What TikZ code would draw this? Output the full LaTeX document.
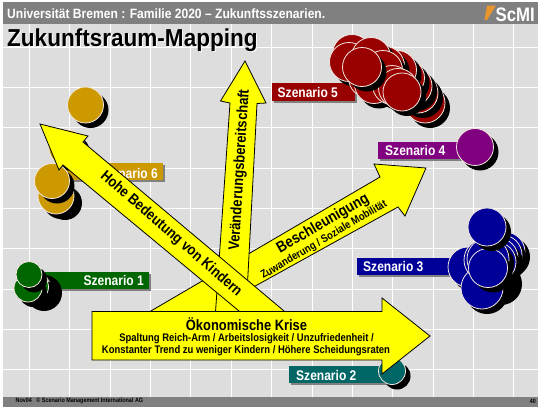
\documentclass[tikz,border=0pt]{standalone}
\usepackage{fontspec}
\setmainfont{Liberation Sans}
\newfontfamily\nb[FakeStretch=0.86]{Liberation Sans Bold}
\newfontfamily\nh[FakeStretch=0.895]{Liberation Sans Bold}
\newfontfamily\tb[FakeStretch=0.92]{Liberation Sans Bold}
\definecolor{bggray}{HTML}{DDDDDD}
\definecolor{hgray}{HTML}{808080}
\definecolor{arrowy}{HTML}{FFFF00}
\definecolor{gold}{HTML}{CC9900}
\definecolor{dred}{HTML}{990000}
\definecolor{navy}{HTML}{000099}
\definecolor{purp}{HTML}{800080}
\definecolor{dgreen}{HTML}{006600}
\definecolor{teal2}{HTML}{006666}
\definecolor{rim}{HTML}{F4E8E0}
\definecolor{orng}{HTML}{E8952E}
\tikzset{
  bigarrow/.style={fill=arrowy,draw=black,line width=.8pt,line join=miter},
  gridline/.style={white,line width=.9pt},
  lab/.style={font=\nb\fontsize{14}{14}\selectfont,text=white,inner sep=0pt,anchor=east},
  arrowtext/.style={inner sep=0pt,text=black},
}
\newcommand{\disc}[4]{% x y r colour
  \fill[black] (#1+5,#2+5) circle[radius=#3];
  \fill[#4,draw=rim,line width=.8pt] (#1,#2) circle[radius=#3];
}
\newcommand{\labbox}[5]{% x1 y1 x2 y2 colour
  \fill[hgray] (#1+2,#2+2) rectangle (#3+2,#4+2);
  \fill[#5] (#1,#2) rectangle (#3,#4);
}
\begin{document}
\begin{tikzpicture}[x=1pt,y=-1pt]
\useasboundingbox (0,0) rectangle (541,407);
\fill[white] (0,0) rectangle (541,407);
\fill[bggray] (3,24) rectangle (538,397);
\foreach \x in {29,69,110,150,190,231,271,312,352,392,433,473,513}
  \draw[gridline] (\x,24) -- (\x,397);
\foreach \y in {47,87,127,168,208,248,289,329,369}
  \draw[gridline] (3,\y) -- (538,\y);
% header, footer
\fill[hgray] (3,2) rectangle (538,24);
\fill[hgray] (3,397) rectangle (538,407);
\node[anchor=west,inner sep=0pt,text=white,font=\nh\fontsize{13.5}{13.5}\selectfont] (head) at (7,13.5) {Universität Bremen : Familie 2020 – Zukunftsszenarien.};
\fill[orng] (487,5.5) -- (496,5.5) -- (487,20) -- (484.5,20) -- cycle;
\node[anchor=east,inner sep=0pt,text=white,font=\nb\fontsize{19.5}{19.5}\selectfont] (logo) at (535,14.5) {ScMI};
\node[anchor=west,inner sep=0pt,font=\nb\fontsize{6.3}{6.3}\selectfont] (foot) at (15.5,401) {Nov04 \ \ © Scenario Management International AG};
\node[anchor=east,inner sep=0pt,font=\nb\fontsize{6.2}{6.2}\selectfont] (page) at (536,401) {40};
% title
\node[anchor=west,inner sep=0pt,text=white,font=\tb\fontsize{24.5}{24.5}\selectfont] (titleb) at (8,41) {Zukunftsraum-Mapping};
\node[anchor=west,inner sep=0pt,text=black,font=\tb\fontsize{24.5}{24.5}\selectfont] (title) at (7,40) {Zukunftsraum-Mapping};
% Szenario 6
\labbox{60}{163}{163}{180}{gold}
\node[lab] (s6) at (158,173) {Szenario 6};
\disc{85.5}{105}{18}{gold}
\disc{67}{148}{18}{gold}
\disc{60}{198}{17}{gold}
\disc{56}{196}{18}{gold}
\disc{52}{181}{17.5}{gold}
% Szenario 1
\labbox{45}{272}{149}{289}{dgreen}
\node[lab] (s1) at (144,280.5) {Szenario 1};
\fill[black] (44,293) circle[radius=18];
\disc{37}{287}{13.5}{dgreen}
\disc{36}{287}{13.5}{dgreen}
\disc{35}{287}{13.5}{dgreen}
\disc{28}{288}{14}{dgreen}
\disc{29}{274.5}{13}{dgreen}
% Szenario 5
\labbox{272}{83}{355}{100.5}{dred}
\node[lab,anchor=west] (s5) at (277.5,92) {Szenario 5};
\disc{425}{103}{20}{dred}
\disc{418}{93}{20}{dred}
\disc{412}{86}{20}{dred}
\disc{405}{78}{19.5}{dred}
\disc{397}{70}{19.5}{dred}
\disc{385}{66}{19.5}{dred}
\disc{352}{54}{19.5}{dred}
\disc{349}{62}{19.5}{dred}
\disc{371}{57}{19.5}{dred}
\disc{368}{78}{19.5}{dred}
\disc{374}{84}{19.5}{dred}
\disc{383}{70}{19.5}{dred}
\disc{392}{85}{19.5}{dred}
\disc{398}{88}{19.5}{dred}
\disc{362}{67}{19.5}{dred}
\disc{402}{92}{19}{dred}
% Szenario 4
\labbox{378}{141.5}{460}{158.5}{purp}
\node[lab,anchor=west] (s4) at (385,150.5) {Szenario 4};
\disc{475}{147}{18.5}{purp}
% Szenario 3
\labbox{356.5}{257.5}{460}{275}{navy}
\node[lab,anchor=west] (s3) at (363,267) {Szenario 3};
\fill[black] (501,284) circle[radius=21];
\disc{505}{252}{20}{navy}
\disc{502}{255}{20}{navy}
\disc{498}{258}{20}{navy}
\disc{496}{262}{20}{navy}
\disc{468}{267}{20}{navy}
\disc{482}{288}{21}{navy}
\disc{485}{260}{21}{navy}
\disc{488}{259}{21}{navy}
\disc{488}{268}{19.5}{navy}
\disc{487}{227}{19}{navy}
% Szenario 2
\labbox{289}{366}{385}{383}{teal2}
\node[lab,anchor=west] (s2) at (296,375) {Szenario 2};
\disc{392}{371}{13.5}{teal2}
% arrows
\draw[bigarrow] (150,311.5) -- (380,177) -- (374,164) -- (426,168) -- (405,216) -- (398,207) -- (230,300) -- (230,311.5) -- cycle;
\draw[bigarrow] (215.5,312) -- (230,103) -- (220.5,101) -- (245,61) -- (266,103) -- (257,103.5) -- (246,312) -- cycle;
\draw[bigarrow] (40,124) -- (88,136) -- (83,142) -- (290,316) -- (245,316) -- (63,165) -- (59,170) -- cycle;
\draw[bigarrow] (92,311.5) -- (382,311.5) -- (382,298) -- (430,336) -- (382,374) -- (382,360) -- (92,360) -- cycle;
% arrow texts
\node[arrowtext,rotate=86.5,font=\nb\fontsize{15.2}{15.2}\selectfont] (veraend) at (240,170) {Veränderungsbereitschaft};
\node[arrowtext,rotate=-41,font=\nb\fontsize{15}{15}\selectfont] (hohe) at (171,234) {Hohe Bedeutung von Kindern};
\node[arrowtext,rotate=30,font=\nb\fontsize{15.5}{15.5}\selectfont] (besch) at (323,224) {Beschleunigung};
\node[arrowtext,rotate=30.5,font=\nb\fontsize{11}{11}\selectfont] (zuw) at (324,240) {Zuwanderung / Soziale Mobilität};
\node[arrowtext,font=\nb\fontsize{15}{15}\selectfont] (oek) at (246.5,324.5) {Ökonomische Krise};
\node[arrowtext,font=\nb\fontsize{11}{11}\selectfont] (sp) at (246.5,338.5) {Spaltung Reich-Arm / Arbeitslosigkeit / Unzufriedenheit /};
\node[arrowtext,font=\nb\fontsize{11}{11}\selectfont] (ko) at (246,351) {Konstanter Trend zu weniger Kindern / Höhere Scheidungsraten};
\end{tikzpicture}
\end{document}
